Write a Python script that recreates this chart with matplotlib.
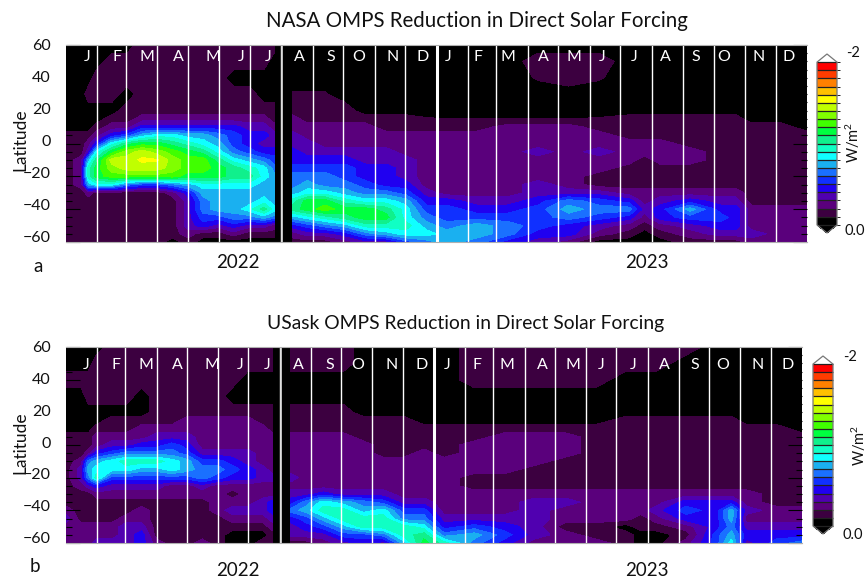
import numpy as np
import matplotlib
matplotlib.use("Agg")
import matplotlib.pyplot as plt
from matplotlib.colors import ListedColormap, BoundaryNorm
from matplotlib.cm import ScalarMappable
from matplotlib.transforms import ScaledTranslation

W, H = 868, 579
plt.rcParams['font.family'] = ['Lato', 'DejaVu Sans']
plt.rcParams['mathtext.default'] = 'regular'

# Latitude rows (south to north)
lats = [-60,-55,-50,-45,-40,-35,-30,-25,-20,-15,-10,-5,0,5,10,15,20,30,40,50,60]
# Days since 1 Jan 2022 of the sampled columns, either side of the data gap
days_before = [0,15,22,30,45,60,75,90,105,120,135,150,165,180,195,205]
days_after = [223,238,255,275,295,315,335,355,375,405,435,465,495,525,555,570,585,615,645,660,675,705,730]
# Values are colour-band numbers: band k = reduction of k*0.1 to (k+1)*0.1 W/m2

# Panel a, NASA OMPS, before the gap
a000=[1,1,1,1,1,1,1,1,1,1,1,1,1,1,0,0,0,0,0,0,0]
a015=[1,1,1,1,1,1,1,2,2,2,2,1,1,1,0,0,0,0,0,0,0]
a022=[1,1,1,1,1,1,2,7,9,9,7,3,2,1,0,0,0,1,0,0,0]
a030=[1,1,1,1,1,1,1,8,11,11,10,8,4,2,1,0,0,1,1,0,0]
a045=[1,1,1,1,1,1,1,8,12,13,14,11,8,4,2,1,0,1,1,1,0]
a060=[1,1,1,1,1,1,1,6,12,14,14,13,10,5,2,1,1,0,1,1,0]
a075=[1,1,1,1,1,1,1,5,12,14,14.7,14,11,7,4,2,1,1,1,1,1]
a090=[1,1,1,1,1,1,1,5,12,14,14.6,13,11,8,4,2,1,1,1,1,1]
a105=[0,1,1,1,1,1,2,6,12,13,13,12,10,8,4,2,1,1,1,1,1]
a120=[1,2,3,3,3,3,4,7,11,12,12,11,9,7,4,2,1,1,1,1,1]
a135=[0,1,4,5,6,6,7,8,11,12,12,10,8,7,4,2,1,1,1,1,1]
a150=[0,1,3,5,7,7,7,8,11,11,10,8,7,6,4,2,1,1,1,1,1]
a165=[0,2,4,6,7,7,7,8,10,10,8,6,5,5,4,2,1,1,0,1,1]
a180=[0,1,3,6,8,7,7,8,10,9,7,5,4,4,3,2,1,1,0,1,1]
a195=[0,1,3,7,10,8,7,7,8,8,6,4,3,4,3,2,1,0,0,1,1]
a205=[0,1,2,6,8,7,7,7,7,6,5,4,3,3,2,1,1,0,0,0,1]
# Panel a, after the gap
a223=[1,2,4,7,10,9,7,6,6,5,4,4,3,3,2,2,1,0.6,0,0,0]
a238=[1,3,5,8,11,11,8,7,6,5,4,3,3,2,2,1,1,0.6,0,0,0]
a255=[1,3,6,9,12,11,8,6,6,5,4,3,2,2,2,1,1,0.6,0,0,0]
a275=[2,4,7,10,11,9,7,6,5,5,4,3,2,2,2,1,1,0,0,0,0]
a295=[3,6,9,11,11,8,6,5,4,4,3,3,2,2,2,1,0,0,0,0,0]
a315=[3,7,9,11,10,8,6,4,4,4,3,3,2,2,1,1,0,0,0,0,0]
a335=[5,8,9,8,8,7,5,4,3,3,3,2,2,2,1,1,0,0,0,0,0]
a355=[6,8,7,6,5,4,3,2,2,2,2,2,2,2,1,0.6,0,0,0,0,0]
a375=[7,7,6,5,5,4,2,2,2,2,2,2,2,2,1,0.5,0,0,0,0,0]
a405=[6,7,7,5,4,3,2,2,2,2,2,2,2,2,1,0.5,0,0,0,0,0]
a435=[4,6,6,5,4,3,2,2,2,2,2,2,2,2,2,0.5,0,0,0,0,0]
a465=[3,4,5,5,5,4,3,3,2,2,2,3,2,2,2,0.5,0,0,0.6,1,0]
a495=[2,4,4,6,7,6,3,2,2,2,2,2,2,2,2,0.5,0,0,1,1,0]
a525=[0,2,3,5,6,5,3,1,1,2,2,3,2,2,1,0.6,0,0,0.6,1,0]
a555=[0,1,2,4,6,4,2,1,1,1,2,2,2,1,1,1,0,0,0,0,0]
a570=[0,0,1,2,3,2,2,1,1,1,1,2,2,1,1,1,0,0,0,0,0]
a585=[0,1,2,4,4,3,2,1,1,1,2,2,2,1,1,1,0,0,0,0,0]
a615=[1,2,3,5,7,4,2,1,1,1,2,2,1,1,1,1,0,0,0,0,0]
a645=[1,3,4,5,4,3,2,1,1,1,1,1,1,1,1,1,0,0,0,0,0]
a660=[1,3,4,4,4,3,2,1,1,1,1,1,1,1,1,1,0,0,0,0,0]
a675=[2,3,2,2,2,1,1,1,1,1,1,1,1,1,1,0,0,0,0,0,0]
a705=[2,2,2,2,2,1,1,1,1,1,1,1,1,1,1,0,0,0,0,0,0]
a730=[2,2,2,2,2,1,1,1,1,1,1,1,1,1,0,0,0,0,0,0,0]

# Panel b, USask OMPS, before the gap
b000=[2,2,2,3,2,1,1,1,1,1,1,1,1,1,0,0,0,0,1,0,0]
b015=[2,2,2,1,1,1,1,2,3,3,2,1,1,1,0,0,0,0,1,0,0]
b022=[2,2,2,1,1,1,1,3,6,7,6,2,1,1,0,0,0,1,1,0,0]
b030=[3,2,2,1,1,1,2,4,9,8,7,4,2,2,1,0,0,1,1,1,0]
b045=[3,2,2,1,1,1,2,3,5,8,8,5,3,2,1,1,0,1,1,1,1]
b060=[3,3,3,2,1,1,2,3,5,8,9,6,3,2,1,1,0,1,1,1,1]
b075=[4,4,3,2,2,1,2,3,5,7,9,6,4,2,2,1,0,0,1,1,1]
b090=[2,1,1,1,1,1,2,3,5,7,9,6,4,3,2,1,1,1,1,1,1]
b105=[1,1,1,1,1,1,2,2,5,8,8,6,5,3,2,1,1,1,1,1,1]
b120=[1,1,1,1,1,1,2,2,5,7,7,5,4,3,2,2,1,1,1,1,1]
b135=[2,1,1,1,1,1,2,3,6,6,5,3,2,2,2,2,1,1,1,1,1]
b150=[1,1,1,1,2,2,2,2,5,6,5,3,2,2,2,2,1,1,1,1,1]
b165=[0,0,1,2,3,2,1,2,4,5,4,3,2,2,2,2,1,0,1,1,1]
b180=[0,0,1,2,3,2,2,2,4,4,3,3,2,2,2,2,1,0,0,1,1]
b195=[1,0,1,2,3,3,2,2,3,3,2,2,2,2,2,1,1,0,0,1,1]
b205=[1,1,2,3,4,4,2,2,3,2,2,2,2,2,1,1,1,0,0,1,1]
# Panel b, after the gap
b223=[1,3,3,4,6,4,3,2,3,2,2,2,2,2,1,1,1,0,0,1,1]
b238=[1,3,4,5,7,6,3,2,2,2,2,2,2,2,1,1,1,0,0,1,1]
b255=[2,3,5,7,9,8,4,2,2,2,2,2,2,2,1,1,1,0,0,1,1]
b275=[3,5,7,9,9,7,3,2,2,2,2,2,2,2,1,1,1,0,0,1,1]
b295=[4,5,9,9,7,6,3,2,2,2,2,2,2,1,1,1,0,0,0,0,0]
b315=[3,6,9,9,8,5,3,2,2,2,2,1,1,1,1,1,0,0,0,0,0]
b335=[7,9,9,6,5,3,2,2,2,2,2,1,1,1,1,1,0,0,0,0,0]
b355=[11,10,8,6,5,3,2,2,2,2,2,2,1,1,1,0,0,0,0,0,0]
b375=[9,6,4,3,2,2,2,2,2,2,2,1,1,1,1,0,0,0,0,0,0]
b405=[6,7,5,3,2,2,2,1,1,2,2,2,2,1,1,0,0,0,1,1,1]
b435=[4,5,4,3,2,2,2,1,1,2,2,2,2,2,1,0,0,0,1,1,1]
b465=[2,3,3,3,3,3,2,1,1,1,2,2,2,2,1,0,0,0,1,1,1]
b495=[2,2,1,2,2,3,2,1,1,1,1,2,2,2,1,0,0,0,1,1,1]
b525=[2,1,1,2,2,2,2,1,1,1,1,1,1,1,1,0,0,0,1,1,1]
b555=[1,1,0,2,2,2,2,1,1,1,1,1,1,1,1,1,0,0,0,1,1]
b570=[0,0,1,1,2,2,2,1,1,1,1,1,1,1,1,1,0,0,0,1,1]
b585=[0,0,1,2,3,2,2,1,1,1,1,1,1,1,1,1,0,0,0,1,1]
b615=[2,1,2,4,5,4,2,1,1,1,1,1,1,1,1,1,0,0,0,0,1]
b645=[5,5,4,4,4,4,2,1,1,1,1,1,1,1,1,1,0,0,0,0,0]
b660=[8,7,6,7,7,4,2,1,1,1,1,1,1,1,1,1,0,0,0,0,0]
b675=[3,4,3,2,3,2,2,1,1,1,1,1,1,1,1,0,0,0,0,0,0]
b705=[5,4,3,2,2,1,1,1,1,1,1,1,1,1,1,0,0,0,0,0,0]
b730=[6,4,3,2,2,1,1,1,1,1,1,1,1,1,0,0,0,0,0,0,0]

a_before=[a000,a015,a022,a030,a045,a060,a075,a090,a105,a120,a135,a150,a165,a180,a195,a205]
a_after=[a223,a238,a255,a275,a295,a315,a335,a355,a375,a405,a435,a465,a495,a525,a555,a570,a585,a615,a645,a660,a675,a705,a730]
b_before=[b000,b015,b022,b030,b045,b060,b075,b090,b105,b120,b135,b150,b165,b180,b195,b205]
b_after=[b223,b238,b255,b275,b295,b315,b335,b355,b375,b405,b435,b465,b495,b525,b555,b570,b585,b615,b645,b660,b675,b705,b730]

month_letters = list("JFMAMJJASOND") * 2
month_ends = [31,59,90,120,151,181,212,243,273,304,334,365,396,424,455,485,516,546,577,608,638,669,699,730]
# pixel x of each month letter (panel a); panel b is 1 px to the left
letter_px = [87,117,147,178,213,241,268,299,331,359,393,423,448,478,508,543,574,602,634,665,696,724,759,789]
lat_ticks = [-60,-40,-20,0,20,40,60]
gap_line_day = 213

band_colors = ['#000000','#3c0040','#5a007c','#5000b0','#2000f0','#1030ff','#1a70ff','#1ab0f0',
               '#10ffff','#10ffc4','#10f08c','#00ff40','#40ff00','#80ff00','#c0ff00','#ffff00',
               '#ffc000','#ff8000','#ff3c00','#ff0000']
levels = np.arange(-0.5, 20.0, 1.0)
cmap = ListedColormap(band_colors)
cmap.set_over('white'); cmap.set_under('black')
norm = BoundaryNorm(levels, cmap.N)

def px_axes(fig, l, t, r, b):
    return fig.add_axes([l/W, 1-b/H, (r-l)/W, (b-t)/H])

fig = plt.figure(figsize=(W/100, H/100), dpi=100)

def panel(before, after, box, cbox, title, title_size, title_x, title_y, tag, tag_xy, year_y, lat_y,
          letter_shift, letter_y, w_xy, minus2_xy, zero_xy):
    ax = px_axes(fig, *box)
    ax.set_facecolor('black')
    ax.contourf(days_before, lats, np.array(before).T, levels=levels, cmap=cmap, norm=norm)
    ax.contourf(days_after, lats, np.array(after).T, levels=levels, cmap=cmap, norm=norm)
    ax.set_xlim(0, 730); ax.set_ylim(-60, 60)
    for d in month_ends[:-1]:
        ax.axvline(d, color='white', lw=2.2 if d == 365 else 1.0)
    ax.axvline(gap_line_day, color='#d8d8d8', lw=1.2)
    # month initials
    for s, p in zip(month_letters, letter_px):
        fig.text((p+letter_shift)/W, 1-letter_y/H, s, color='white', fontsize=11.5,
                 ha='center', va='center')
    ax.set_xticks([])
    ax.set_yticks(lat_ticks)
    ax.set_yticks(np.arange(-60, 61, 5), minor=True)
    ax.tick_params(axis='y', which='major', direction='in', length=10, width=0.8, left=True, right=True,
                   color='black', labelsize=11.5, pad=11, labelcolor='#111111')
    ax.tick_params(axis='y', which='minor', direction='in', length=4, width=0.8, left=True, right=True, color='black')
    for tick, lat in zip(ax.yaxis.get_major_ticks(), lat_ticks):
        shift = ScaledTranslation(0, ((60-lat)/120*5+0.5)/100, fig.dpi_scale_trans)
        tick.label1.set_transform(tick.label1.get_transform() + shift)
    for name in ('left', 'right'):
        ax.spines[name].set_visible(False)
    for name in ('top', 'bottom'):
        ax.spines[name].set_color('#b0b0b0'); ax.spines[name].set_linewidth(0.8)
    fig.text(20/W, 1-lat_y/H, 'Latitude', rotation=90, fontsize=12.5, ha='center', va='center', color='#111111')
    fig.text(title_x/W, 1-title_y/H, title, fontsize=title_size, ha='center', va='center', color='#111111')
    fig.text(tag_xy[0]/W, 1-tag_xy[1]/H, tag, fontsize=13.5, ha='center', va='center', color='#111111')
    fig.text(238/W, 1-year_y/H, '2022', fontsize=13.5, ha='center', va='center', color='#111111')
    fig.text(647/W, 1-year_y/H, '2023', fontsize=13.5, ha='center', va='center', color='#111111')
    # colour bar
    cax = px_axes(fig, *cbox)
    sm = ScalarMappable(norm=norm, cmap=cmap)
    cb = fig.colorbar(sm, cax=cax, extend='both', extendfrac=0.05, drawedges=True, ticks=[], spacing='uniform')
    cb.dividers.set_color('#222222'); cb.dividers.set_linewidth(0.9)
    cb.outline.set_edgecolor('#777777'); cb.outline.set_linewidth(0.9)
    cb.ax.minorticks_off()
    fig.text(minus2_xy[0]/W, 1-minus2_xy[1]/H, '-2', fontsize=10.5, ha='center', va='center', color='#111111')
    fig.text(zero_xy[0]/W, 1-zero_xy[1]/H, '0.0', fontsize=10.5, ha='center', va='center', color='#111111')
    fig.text(w_xy[0]/W, 1-w_xy[1]/H, 'W/m$^2$', rotation=90, fontsize=10.5, ha='center', va='center', color='#111111')
    return ax

panel(a_before, a_after, (66, 45, 807, 242), (817, 54, 837, 233),
      'NASA OMPS Reduction in Direct Solar Forcing', 14.8, 477, 21, 'a', (38, 266), 262, 140,
      0, 57, (853, 142), (853, 53), (855, 231))
panel(b_before, b_after, (66, 347, 802, 543), (813, 356, 833, 534),
      'USask OMPS Reduction in Direct Solar Forcing', 13.9, 466, 323, 'b', (35, 567), 570, 443,
      -1, 365, (859, 445), (850, 357), (853, 535))

fig.savefig('out.png', dpi=100)
